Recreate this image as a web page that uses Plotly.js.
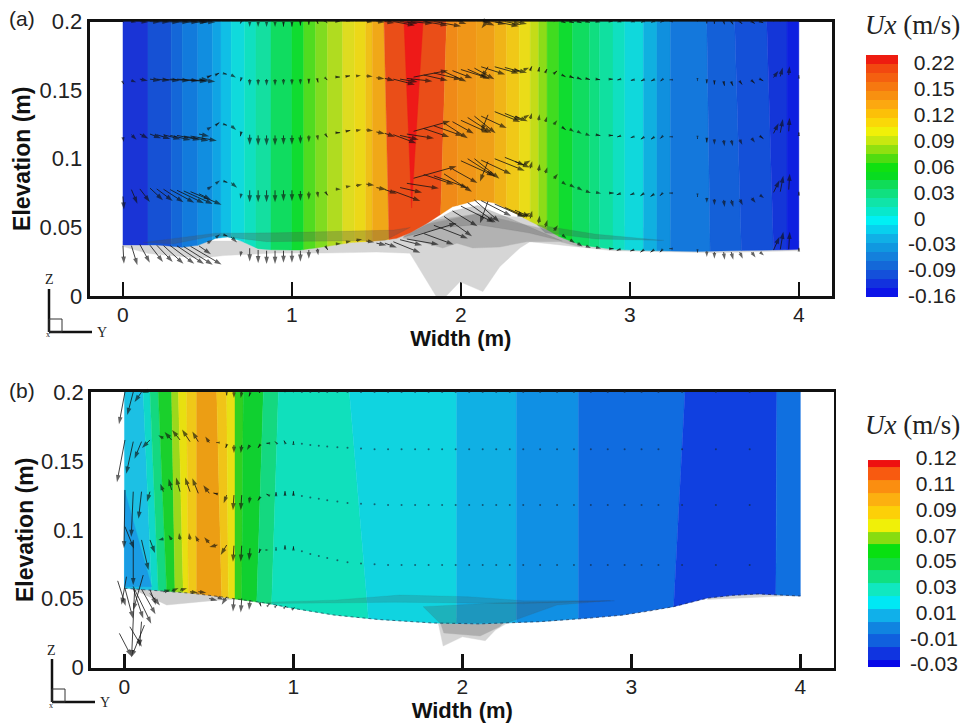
<!DOCTYPE html>
<html><head><meta charset="utf-8">
<script src="https://cdn.plot.ly/plotly-3.0.1.min.js"></script>
<style>html,body{margin:0;padding:0;background:#fff}</style></head>
<body><div id="chart" style="width:966px;height:724px"></div>
<script>
// ---------- labels ----------
const widthTicks=[0,1,2,3,4];
const elevTicks=[0,0.05,0.1,0.15,0.2];
const elevLabels=['0','0.05','0.1','0.15','0.2'];
const legendLabelsA=['-0.16','-0.09','-0.03','0','0.03','0.06','0.09','0.12','0.15','0.22'];
const legendLabelsB=['-0.03','-0.01','0.01','0.03','0.05','0.07','0.09','0.11','0.12'];

// ---------- panel (a): Ux bands ----------
const bandTopA=[0,.148,.285,.35,.443,.53,.58,.64,.72,.787,.876,1.0,1.07,1.14,1.21,1.30,1.37,1.437,1.476,1.545,1.915,1.98,2.09,2.2,2.27,2.345,2.41,2.46,2.51,2.58,2.66,2.76,2.82,2.90,2.97,3.08,3.16,3.24,3.455,3.62,3.81,3.93,4];
const bandBotA=[0,.148,.285,.35,.443,.53,.58,.64,.72,.787,.876,1.0,1.07,1.14,1.21,1.30,1.37,1.437,1.476,1.575,1.88,1.98,2.09,2.2,2.27,2.345,2.41,2.46,2.51,2.58,2.66,2.76,2.82,2.90,2.97,3.08,3.16,3.24,3.475,3.66,3.85,3.93,4];
const bandColA=['#1a34d6','#1651d4','#1467d8','#127bdc','#118ee0','#10a4e4','#10bfe6','#10dadc','#10e0c0','#14dfa0','#10dc60','#10dc30','#50dc20','#80dc20','#b0dc20','#dedc20','#ecd818','#f0c018','#f0a818','#ea4e18','#f08a18','#f09618','#efa018','#f0b418','#f0c818','#eadc18','#c4dc18','#8cdc18','#40dc20','#10dc30','#10dc60','#10de80','#10e0a0','#10e0c0','#10d8dc','#10b0e0','#1090de','#1478dc','#1460d8','#1450d8','#1436d8','#0e20e0'];
const redX=[1.663,1.776,1.708], redY=[.2,.2,.0641];
const bedXA=[0,.2,.35,.45,.55,.62,.7,.8,.9,1.05,1.2,1.35,1.5,1.62,1.7,1.8,1.95,2.1,2.2,2.3,2.4,2.5,2.6,2.72,2.9,3.1,3.4,3.6,3.85,4];
const bedYA=[.0372,.0372,.0355,.037,.042,.043,.040,.0345,.0335,.0335,.036,.039,.040,.042,.046,.053,.065,.07,.0677,.0617,.055,.049,.042,.037,.034,.033,.0325,.033,.0335,.034];
const greyLightXA=[0,0,.15,.45,.6,.9,1.2,1.5,1.698,1.876,1.994,2.13,2.23,2.349,2.408,2.663,2.9,3.5,4,4,2.1,1];
const greyLightYA=[.04,.036,.031,.0275,.0295,.0313,.0313,.032,.0312,-.0048,.0104,.0032,.0214,.035,.0396,.036,.033,.0315,.033,.04,.06,.04];
const greyMidXA=[1.657,1.75,1.893,1.976,2.07,2.23,2.39,2.586,2.70,2.8,2.1,1.7];
const greyMidYA=[.0422,.04,.035,.0385,.035,.0357,.0396,.0396,.036,.04,.06,.05];
const greyDarkXA=[1.66,1.95,2.1,2.3,2.6,2.4,2.1,1.9];
const greyDarkYA=[.043,.062,.066,.056,.04,.046,.052,.05];
const streak1XA=[.12,.55,.9,1.6,1.7,1.55,.85,.55,.3];
const streak1YA=[.039,.0458,.046,.048,.05,.0405,.0396,.044,.038];
const streak2XA=[2.45,2.8,3.2,2.8,2.5];
const streak2YA=[.052,.045,.0405,.0415,.046];

// ---------- panel (a): velocity vectors ----------
const arrXA=[0,.05,.1,.16,.2,.24,.28,.32,.36,.4,
 .45,.5,.55,.6,.64,.7,.75,.8,.85,.9,
 .95,1,1.05,1.1,1.15,1.2,1.26,1.32,1.38,1.44,
 1.5,1.55,1.6,1.64,1.68,1.72,1.78,1.84,1.9,1.95,
 2,2.04,2.08,2.12,2.16,2.2,2.26,2.32,2.37,2.41,
 2.46,2.5,2.55,2.6,2.645,2.69,2.74,2.8,2.88,2.94,
 3.02,3.08,3.14,3.19,3.24,3.4,3.455,3.5,3.555,3.6,
 3.65,3.72,3.77,3.85,3.89,3.94,4];
const arrUA=[1,6,10,13,16,20,24,27,29,31,
 12,5,4,3,6,-1,0,0,0,0,
 0,0,0,0,1,2,5,5,6,8,
 10,12,27,22,32,43,30,34,28,25,
 33,28,25,30,-8,30,20,15,7,2,
 1,2,4,4,5,5,5,5,4,-3,
 -3,-3,-3,-2,-1,0,0,0,1,2,
 3,4,4,6,3,1,0];
const arrVA=[-13,-14,-13,-12,-12,-13,-13,-13,-13,-13,
 -6,3,3,-1,-5,-5,-12,-12,-12,-12,
 -11,-11,-10,-8,-6,-3,0,1,1,-1,
 -2,-4,-10,-5,-5,12,-10,-12,-18,-14,
 -15,-18,-20,-14,-20,-12,-8,-6,4,7,
 7,6,5,-3,-3,-3,-2,-1,0,-1,
 -1,-2,-2,-2,0,-1,-5,-6,-7,-7,
 -6,-5,-3,12,16,16,2];
const rowTopA=[.2,.2,.2,.2,.2,.2,.2,.2,.2,.2,
 .2,.2005,.2015,.2017,.2015,.2,.1995,.1995,.1995,.1995,
 .1995,.1995,.2,.2,.2,.2,.2,.2,.2,.2,
 .2,.2,.2,.2,.2,.2,.2,.2,.2035,.2045,
 .2047,.2045,.203,.202,.201,.2,.2,.2,.2,.2,
 .2,.2,.2,.2,.2,.2,.2,.2,.2,.2,
 .2,.2,.2,.2,.2,.2,.2,.2,.2,.2,
 .2,.2,.2,.2,.2,.2,.2];
const row155A=[.1555,.157,.158,.158,.158,.158,.158,.158,.1575,.1575,
 .158,.1595,.1612,.162,.1612,.1585,.158,.158,.158,.158,
 .158,.158,.158,.158,.158,.1585,.1595,.16,.1603,.1603,
 .159,.1585,.158,.158,.1585,.1595,.161,.1625,.1635,.1642,
 .165,.1652,.166,.167,.167,.167,.1665,.165,.1647,.1645,
 .164,.163,.162,.161,.16,.159,.1585,.158,.158,.1578,
 .1575,.1575,.1575,.1575,.1575,.157,.157,.1565,.156,.156,
 .1565,.157,.158,.1592,.16,.161,.16];
const row115A=[.1155,.1175,.118,.118,.1175,.1175,.117,.117,.1165,.1165,
 .118,.1215,.1245,.125,.124,.1195,.1175,.117,.117,.117,
 .117,.117,.117,.117,.117,.1175,.119,.12,.1205,.121,
 .1195,.1185,.1175,.117,.118,.12,.122,.124,.126,.127,
 .128,.13,.131,.131,.132,.1343,.133,.131,.1295,.129,
 .128,.127,.125,.123,.1215,.12,.118,.1175,.117,.1165,
 .116,.1155,.1155,.116,.116,.115,.115,.114,.1135,.1135,
 .114,.115,.1165,.1185,.119,.12,.118];
const row080A=[.0725,.0775,.078,.0786,.078,.0778,.0775,.077,.0765,.076,
 .0745,.078,.082,.0835,.0825,.0745,.077,.077,.077,.077,
 .077,.077,.0765,.076,.076,.0755,.0778,.0795,.0805,.0815,
 .079,.0775,.0765,.079,.0821,.0858,.0885,.0875,.089,.0925,
 .0985,.1,.1,.099,.098,.1,.101,.098,.0958,.093,
 .091,.0895,.0855,.083,.081,.079,.0765,.0755,.075,.0745,
 .0745,.0745,.074,.0745,.075,.073,.0715,.0705,.07,.07,
 .0705,.0715,.0735,.0755,.076,.0775,.0745];
const rowBedA=[.0367,.0367,.0375,.037,.037,.0367,.0367,.0365,.036,.0362,
 .0365,.0385,.0425,.0445,.043,.0325,.0348,.0335,.033,.033,
 .033,.033,.033,.0335,.0345,.036,.038,.0392,.0405,.04,
 .0385,.0385,.0395,.041,.0415,.0435,.0455,.0515,.058,.062,
 .0655,.068,.07,.0695,.069,.067,.0645,.0625,.0575,.0565,
 .053,.0505,.0475,.0445,.041,.0385,.0365,.0355,.0345,.034,
 .0335,.0335,.0335,.0335,.0345,.0325,.0325,.032,.032,.032,
 .032,.032,.032,.0335,.034,.034,.0335];
const rowsA=[rowTopA,row155A,row115A,row080A,rowBedA];
const gainUA=[.8,.8,.85,1,1];
const gainVLeftA=[.05,.12,.35,1,1.4];
const gainVRightA=[.4,.55,.85,1,1.1];

// ---------- panel (b): Ux bands ----------
const bandTopB=[0,.111,.151,.20,.279,.319,.368,.427,.546,.605,.654,.703,.822,.911,1.331,1.966,2.32,2.687,3.317,3.861,4];
const bandBotB=[0,.161,.2,.25,.299,.348,.378,.427,.575,.615,.654,.694,.783,.871,1.444,1.966,2.32,2.687,3.25,3.855,4];
const bandColB=['#1cc0e4','#10d8c8','#14d880','#1ad02c','#9cd81c','#e8e010','#f0c818','#ec9e14','#f0c418','#e8e014','#30d020','#10d030','#14d880','#10e0bc','#10d4e0','#10b0e4','#1090e4','#106ce0','#1040e0','#1070e0'];
const wedgeX=[0,.161,0], wedgeY=[.129,.0588,.0588];
const bedXB=[0,.2,.4,.566,.7,.84,1,1.24,1.5,1.83,2.1,2.46,2.75,2.95,3.1,3.25,3.45,3.6,3.75,4];
const bedYB=[.0576,.056,.054,.0515,.049,.0468,.043,.0382,.035,.0324,.0318,.0334,.036,.0382,.041,.0443,.0505,.0525,.0535,.052];
const greyLeftXB=[.05,.25,.55,.72,.72,.05], greyLeftYB=[.057,.0455,.049,.05,.054,.06];
const greyLightXB=[1.857,1.886,2.0,2.135,2.195,2.27,2.27,1.857];
const greyLightYB=[.0324,.0157,.0224,.0196,.0273,.0327,.036,.036];
const greyDarkXB=[1.87,1.89,2.105,2.22,2.26,1.87];
const greyDarkYB=[.0324,.0252,.023,.0297,.0345,.0345];
const greyRightXB=[3.45,3.7,3.9,4,4,3.45], greyRightYB=[.0495,.051,.052,.052,.054,.054];
const streak1XB=[.84,1.24,1.63,2.03,2.36,2.9,2.36,1.6,.84];
const streak1YB=[.0475,.049,.0527,.0515,.0486,.0486,.0465,.0475,.0465];
const streak2XB=[1.768,1.866,2.27,2.56,2.875,2.2];
const streak2YB=[.0443,.0324,.0327,.0455,.0486,.047];

// ---------- panel (b): velocity vectors ----------
const arrXB=[.003,.052,.101,.151,.23,.279,.329,.388,.437,.502,.55,.605,.648,.694,.743,.802,.852,.897,.95,1.0];
const yB1=[.2,.2,.2,.2015,.2026,.2015,.2015,.2015,.2015,.2009,.2005,.199,.2,.2,.199,.2,.2005,.2005,.2005,.2005];
const uB1=[-6,-6,-7,-8,-7,-9,-9,-7,-4,-2,0,0,0,-1,-1,-1,0,0,0,0];
const vB1=[-32,-23,-10,-3,2,5,6,6,5,3,0,-2,-6,-6,-3,-1,0,0,-1,-1];
const yB2=[.1652,.164,.164,.1652,.1664,.1652,.1652,.164,.164,.1633,.1633,.1616,.1616,.1616,.1616,.1616,.1628,.1633,.1633,.1628];
const uB2=[-8,-7,-7,-8,-5,-7,-8,-8,-6,-4,-1,-1,0,-1,-3,-2,-2,-1,-1,0];
const vB2=[-42,-32,-17,-8,3,8,10,12,10,6,0,-3,-8,-8,-5,-3,0,1,2,2];
const yB3=[.1289,.1277,.1277,.1277,.1277,.129,.1277,.1277,.1265,.1265,.126,.1252,.1252,.1252,.124,.1235,.1252,.1252,.1252,.1252];
const uB3=[-1,-2,-3,-3,-3,-3,-4,-5,-6,-6,-4,-3,-1,-1,-1,-2,-2,0,0,0];
const vB3=[-58,-45,-27,-10,8,11,14,14,15,8,1,-8,-15,-15,-7,-3,1,3,4,4];
const yB4=[.1023,.0927,.0927,.0927,.0934,.0927,.0927,.0927,.0915,.0903,.089,.089,.0885,.0885,.0866,.0854,.0854,.0866,.0866,.0859];
const uB4=[9,0,7,5,-5,-3,-1,-1,-3,-5,-8,-6,-1,-1,-1,-1,0,0,0,0];
const vB4=[-22,-45,-30,-13,-1,5,7,7,6,6,-2,-10,-16,-16,-12,-3,0,1,3,3];
const yB5=[.0576,.0575,.057,.0565,.0551,.0556,.0562,.0551,.0551,.0502,.0514,.0515,.0503,.0503,.0491,.0467,.0455,.0447,.044,.043];
const uB5=[8,10,14,6,7,7,7,8,8,8,6,-5,-1,-1,-1,1,1,1,1,1];
const vB5=[-30,-30,-25,-15,2,3,2,-1,-1,-2,-3,-8,-13,-14,-10,-3,1,1,1,1];
const xB6=[.052,.06,-.03,.118,.032,.101,.111,.012,.151,-.04];
const yB6=[.0589,.0565,.0249,.0309,.0297,.0334,.0672,.066,.0539,.063];
const uB6=[18,-3,12,-13,12,-2,-10,-5,10,8];
const vB6=[-37,-67,-23,-32,-20,-25,-35,-28,-12,-25];
const dotXB=[1.05,1.1,1.15,1.2,1.26,1.32,1.4,1.48,1.56,1.64,1.72,1.8,1.88,1.96,2.04,2.12,2.2,2.28,2.36,2.46,2.56,2.66,2.76,2.86,2.96,3.06,3.16,3.3,3.5,3.7];
const dotY1=[.1625,.1615,.161,.1605,.16,.1595,.159,.1585,.1584,.1584,.1584,.1584,.1584,.1584,.1584,.1584,.1584,.1584,.1584,.1584,.1584,.1584,.1584,.1584,.1584,.1584,.1584,.1584,.1584,.1584];
const dotY2=[.1245,.1235,.1225,.1215,.1205,.1195,.119,.1185,.118,.118,.118,.118,.118,.118,.118,.118,.118,.118,.118,.118,.118,.118,.118,.118,.118,.118,.118,.118,.118,.118];
const dotY3=[.0845,.0825,.081,.0795,.078,.0765,.0755,.075,.0745,.0745,.0745,.0745,.0745,.0745,.0745,.0745,.0745,.0745,.0745,.0745,.0745,.0745,.0745,.0745,.0745,.0745,.0745,.0745,.0745,.0745];

// ---------- legends ----------
const legendColA=['#0c14e8','#1232de','#1450da','#1468d8','#1480dc','#1098e0','#10b0e6','#08d0ee','#00f0f4','#08e8cc','#10e4a8','#10e080','#10dc58','#08dc20','#10e010','#50dc10','#90e010','#c8e810','#f0f008','#fad808','#fcc008','#fca810','#f89010','#f67810','#f46010','#f24810','#ee1c10'];
const legendColB=['#0808e8','#1034e0','#1060de','#1084e0','#10b0ea','#00e8f4','#10e8c0','#10e080','#10dc40','#08e010','#88dc10','#f0f008','#fcd008','#fcb010','#fb8e10','#f85a10','#ee1010'];
const legendEdgeB=[-.13,.15,.65,1.15,1.64,2.14,2.64,3.14,3.63,4.13,4.64,5.13,5.63,6.13,6.64,7.14,7.63,7.92];

// ---------- helpers ----------
const F='"Liberation Sans", Arial, sans-serif', S='"Liberation Serif", "Times New Roman", serif', INK='#222';
const W=966,H=724;
const dx=(a,b)=>[a/W,b/W], dy=(t,b)=>[1-b/H,1-t/H];
const traces=[];
function interp(xs,ys,x){for(let i=1;i<xs.length;i++){if(x<=xs[i]){const t=(x-xs[i-1])/(xs[i]-xs[i-1]);return ys[i-1]+t*(ys[i]-ys[i-1]);}}return ys[ys.length-1];}
function poly(x,y,color,xa,ya,noClip){traces.push({type:'scatter',mode:'lines',x:x.concat([x[0]]),y:y.concat([y[0]]),fill:'toself',fillcolor:color,line:{color:color,width:0.4},hoverinfo:'skip',showlegend:false,xaxis:xa,yaxis:ya,cliponaxis:!noClip});}
function bands(top,bot,cols,bx,by,xa,ya){
  for(let i=0;i<cols.length;i++){
    const px=[top[i],top[i+1],bot[i+1]],py=[.2,.2,interp(bx,by,bot[i+1])];
    for(let k=bx.length-1;k>=0;k--){if(bx[k]<bot[i+1]&&bx[k]>bot[i]){px.push(bx[k]);py.push(by[k]);}}
    px.push(bot[i]);py.push(interp(bx,by,bot[i]));
    poly(px,py,cols[i],xa,ya);
  }
}
const KX=1/169,KY=1/1372;
function arrows(xs,ys,us,vs,xa,ya){
  const X=[],Y=[],Z=[];
  for(let i=0;i<xs.length;i++){
    const len=Math.hypot(us[i],vs[i]);
    X.push(xs[i],xs[i]+us[i]*KX,null);
    Y.push(ys[i],ys[i]+vs[i]*KY,null);
    Z.push(0,Math.min(7.5,3+len*.45),0);
  }
  traces.push({type:'scatter',mode:'lines+markers',x:X,y:Y,line:{color:'rgba(20,20,20,.85)',width:.95},
    marker:{symbol:'arrow',angleref:'previous',size:Z,color:'rgba(15,15,15,.92)',line:{width:0}},
    hoverinfo:'skip',showlegend:false,xaxis:xa,yaxis:ya,cliponaxis:false,connectgaps:false});
}

// ---------- panel (a) ----------
poly(greyLightXA,greyLightYA,'#d6d6d6','x','y',true);
poly(greyMidXA,greyMidYA,'#b2b2b2','x','y');
bands(bandTopA,bandBotA,bandColA,bedXA,bedYA,'x','y');
poly(redX,redY,'#ee1a18','x','y');
poly(greyDarkXA,greyDarkYA,'rgba(90,90,90,.3)','x','y');
poly(streak1XA,streak1YA,'rgba(80,80,80,.3)','x','y');
poly(streak2XA,streak2YA,'rgba(60,80,80,.3)','x','y');
rowsA.forEach((row,r)=>{
  const u=arrUA.map(v=>v*gainUA[r]);
  const v=arrVA.map((w,i)=>w*(arrXA[i]<.5?gainVLeftA[r]:gainVRightA[r]));
  arrows(arrXA,row,u,v,'x','y');
});

// ---------- panel (b) ----------
poly(greyLeftXB,greyLeftYB,'#cfcfcf','x2','y2');
poly(greyLightXB,greyLightYB,'#d4d4d4','x2','y2');
poly(greyDarkXB,greyDarkYB,'#aeaeae','x2','y2');
poly(greyRightXB,greyRightYB,'#d4d4d4','x2','y2');
bands(bandTopB,bandBotB,bandColB,bedXB,bedYB,'x2','y2');
poly(wedgeX,wedgeY,'#1a9ce4','x2','y2');
poly(streak1XB,streak1YB,'rgba(70,70,70,.2)','x2','y2');
poly(streak2XB,streak2YB,'rgba(70,70,70,.24)','x2','y2');
traces.push({type:'scatter',mode:'lines',x:bedXB,y:bedYB,line:{color:'rgba(20,30,60,.6)',width:1,dash:'dot'},hoverinfo:'skip',showlegend:false,xaxis:'x2',yaxis:'y2'});
[dotY1,dotY2,dotY3,dotXB.map(()=>.2)].forEach(r=>traces.push({type:'scatter',mode:'markers',x:dotXB,y:r,marker:{size:2,color:'rgba(20,40,60,.65)'},hoverinfo:'skip',showlegend:false,xaxis:'x2',yaxis:'y2',cliponaxis:false}));
arrows(arrXB,yB1,uB1,vB1,'x2','y2');
arrows(arrXB,yB2,uB2,vB2,'x2','y2');
arrows(arrXB,yB3,uB3,vB3,'x2','y2');
arrows(arrXB,yB4,uB4,vB4,'x2','y2');
arrows(arrXB,yB5,uB5,vB5,'x2','y2');
arrows(xB6,yB6,uB6,vB6,'x2','y2');

// ---------- legend bars ----------
function legendBar(cols,edges,xa,ya){
  const n=cols.length;
  traces.push({type:'heatmap',x:[0,1],y:edges,z:cols.map((c,i)=>[i]),zmin:0,zmax:n-1,
    colorscale:cols.map((c,i)=>[i/(n-1),c]),showscale:false,hoverinfo:'skip',xaxis:xa,yaxis:ya,zsmooth:false});
}
const legendEdgeA=legendColA.map((c,i)=>-.04+i*(9.34/legendColA.length)).concat([9.3]);
legendBar(legendColA,legendEdgeA,'x3','y3');
legendBar(legendColB,legendEdgeB,'x4','y4');

// ---------- layout ----------
const xBase={range:[-.198,4.196],tickmode:'array',tickvals:widthTicks,ticktext:widthTicks.map(String),ticks:'inside',ticklen:14,tickwidth:2.5,tickcolor:'#111',
  showgrid:false,zeroline:false,showline:true,mirror:true,linecolor:'#111',linewidth:2.8,layer:'below traces',ticklabelstandoff:-2,
  tickfont:{family:F,size:21,color:INK}};
const yBase={range:[0,.2],tickmode:'array',tickvals:elevTicks,ticktext:elevLabels,ticks:'',showgrid:false,zeroline:false,showline:true,mirror:true,linecolor:'#111',linewidth:2.8,layer:'below traces',
  tickfont:{family:F,size:22,color:INK}};
const xTitle=s=>({text:'<b>Width (m)</b>',font:{family:F,size:22,color:'#111'},standoff:s});
const yTitle=s=>({text:'<b>Elevation (m)</b>',font:{family:F,size:23,color:'#111'},standoff:s});
function cbY(vals,labels,dom,anchor,range){return {domain:dom,anchor:anchor,side:'right',range:range,tickmode:'array',tickvals:vals,ticktext:labels.map(l=>l[0]==='-'?l:'\u00a0'+l),ticks:'',ticklabelstandoff:9,showgrid:false,zeroline:false,showline:false,tickfont:{family:F,size:21,color:INK}};}
const cbX=(dom,anchor)=>({domain:dom,anchor:anchor,range:[0,1],visible:false,fixedrange:true});
const tickIdxA=legendLabelsA.map((_,i)=>i), tickIdxB=legendLabelsB.map((_,i)=>i);
function triad(x,yT,yB,xR){return [
 {type:'line',xref:'paper',yref:'paper',x0:x/W,x1:x/W,y0:1-yT/H,y1:1-yB/H,line:{color:'#111',width:2.5}},
 {type:'line',xref:'paper',yref:'paper',x0:x/W,x1:xR/W,y0:1-yB/H,y1:1-yB/H,line:{color:'#111',width:2.5}},
 {type:'rect',xref:'paper',yref:'paper',x0:x/W,x1:(x+13)/W,y0:1-yB/H,y1:1-(yB-13)/H,line:{color:'#333',width:1}}];}
function note(t,x,y,size,fam,anchor){return {text:t,xref:'paper',yref:'paper',x:x/W,y:1-y/H,xanchor:anchor||'center',yanchor:'middle',showarrow:false,font:{family:fam,size:size,color:INK}};}
const layout={width:W,height:H,margin:{l:0,r:0,t:0,b:0},paper_bgcolor:'#fff',plot_bgcolor:'#fff',showlegend:false,
  xaxis:Object.assign({},xBase,{domain:dx(89.5,832),anchor:'y',title:xTitle(3)}),
  yaxis:Object.assign({},yBase,{domain:dy(21.5,296),anchor:'x',title:yTitle(3)}),
  xaxis2:Object.assign({},xBase,{domain:dx(91,833.5),anchor:'y2',title:xTitle(0)}),
  yaxis2:Object.assign({},yBase,{domain:dy(392,667.7),anchor:'x2',title:yTitle(1)}),
  xaxis3:cbX(dx(866,898),'y3'),
  yaxis3:cbY(tickIdxA,legendLabelsA,dy(55,297),'x3',[-.04,9.3]),
  xaxis4:cbX(dx(868,900),'y4'),
  yaxis4:cbY(tickIdxB,legendLabelsB,dy(455.4,667.3),'x4',[-.13,8.1]),
  shapes:[].concat(triad(49,289,332,92),triad(52,659,702,95)),
  annotations:[
    note('(a)',22,19,21,F),note('(b)',22,390,21,F),
    note('<i>Ux</i> (m/s)',912,25,27,S),note('<i>Ux</i> (m/s)',912,425,27,S),
    note('Z',49.5,279,14,S),note('Y',102,332,14,S),note('x',48,334,8,S),
    note('Z',51.5,650,14,S),note('Y',105,702,14,S),note('x',51,705,8,S)
  ]};
Plotly.newPlot('chart',traces,layout,{displayModeBar:false,staticPlot:true});
</script></body></html>
